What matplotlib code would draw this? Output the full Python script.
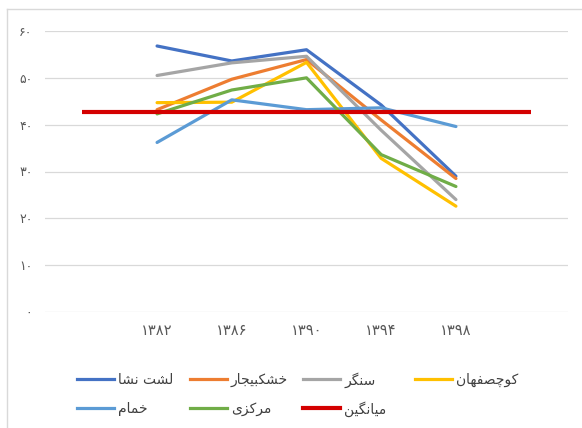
import matplotlib
matplotlib.use("Agg")
import matplotlib.pyplot as plt
from matplotlib.lines import Line2D

# ---------------- data ----------------
categories = ["", "۱۳۸۲", "۱۳۸۶", "۱۳۹۰", "۱۳۹۴", "۱۳۹۸", ""]
series_names = ["لشت نشا", "خشکبیجار", "سنگر", "کوچصفهان", "خمام", "مرکزی"]
lasht_nesha = [56.8, 53.6, 56.0, 44.2, 29.0]
khoshkebijar = [43.2, 49.7, 53.9, 41.0, 28.5]
sangar = [50.5, 53.2, 54.6, 38.8, 24.0]
kuchesfahan = [44.7, 44.8, 53.3, 32.8, 22.6]
khomam = [36.2, 45.3, 43.2, 43.6, 39.6]
markazi = [42.3, 47.4, 50.0, 33.6, 26.8]
average_name = "میانگین"
average = [42.8, 42.8, 42.8, 42.8, 42.8, 42.8, 42.8]
yticks = [0, 10, 20, 30, 40, 50, 60]

colors = ["#4472C4", "#ED7D31", "#A5A5A5", "#FFC000", "#5B9BD5", "#70AD47"]
avg_color = "#D40000"

# ------------- simple Persian shaping -------------
FORMS = {
    "ا": ("\uFE8D", "\uFE8E", None, None),
    "ب": ("\uFE8F", "\uFE90", "\uFE91", "\uFE92"),
    "ت": ("\uFE95", "\uFE96", "\uFE97", "\uFE98"),
    "ج": ("\uFE9D", "\uFE9E", "\uFE9F", "\uFEA0"),
    "چ": ("\uFB7A", "\uFB7B", "\uFB7C", "\uFB7D"),
    "خ": ("\uFEA5", "\uFEA6", "\uFEA7", "\uFEA8"),
    "ر": ("\uFEAD", "\uFEAE", None, None),
    "ز": ("\uFEAF", "\uFEB0", None, None),
    "س": ("\uFEB1", "\uFEB2", "\uFEB3", "\uFEB4"),
    "ش": ("\uFEB5", "\uFEB6", "\uFEB7", "\uFEB8"),
    "ص": ("\uFEB9", "\uFEBA", "\uFEBB", "\uFEBC"),
    "ف": ("\uFED1", "\uFED2", "\uFED3", "\uFED4"),
    "ک": ("\uFB8E", "\uFB8F", "\uFB90", "\uFB91"),
    "گ": ("\uFB92", "\uFB93", "\uFB94", "\uFB95"),
    "ل": ("\uFEDD", "\uFEDE", "\uFEDF", "\uFEE0"),
    "م": ("\uFEE1", "\uFEE2", "\uFEE3", "\uFEE4"),
    "ن": ("\uFEE5", "\uFEE6", "\uFEE7", "\uFEE8"),
    "و": ("\uFEED", "\uFEEE", None, None),
    "ه": ("\uFEE9", "\uFEEA", "\uFEEB", "\uFEEC"),
    "ی": ("\uFBFC", "\uFBFD", "\uFBFE", "\uFBFF"),
}


def shape(text):
    out = []
    n = len(text)
    for i, ch in enumerate(text):
        if ch not in FORMS:
            out.append(ch)
            continue
        iso, fin, ini, med = FORMS[ch]
        prev = text[i - 1] if i > 0 else None
        nxt = text[i + 1] if i < n - 1 else None
        join_prev = prev in FORMS and FORMS[prev][2] is not None
        join_next = ini is not None and nxt in FORMS
        if join_prev and join_next:
            out.append(med)
        elif join_prev:
            out.append(fin)
        elif join_next:
            out.append(ini)
        else:
            out.append(iso)
    return "".join(out)[::-1]


def to_fa_digits(v):
    return "".join("۰۱۲۳۴۵۶۷۸۹"[int(c)] if c.isdigit() else c for c in str(v))


plt.rcParams["font.family"] = ["DejaVu Sans"]

W, H = 582, 428
fig = plt.figure(figsize=(W / 100, H / 100), dpi=100)
ax = fig.add_axes([45 / W, 1 - 312 / H, (568 - 45) / W, (312 - 31) / H])

xs = list(range(1, 6))
all_series = [lasht_nesha, khoshkebijar, sangar, kuchesfahan, khomam, markazi]
handles = []
for name, vals, c in zip(series_names, all_series, colors):
    (h,) = ax.plot(xs, vals, color=c, lw=2.3, solid_capstyle="round",
                   solid_joinstyle="round", label=shape(name), zorder=3)
    handles.append(h)
(havg,) = ax.plot(range(len(categories)), average, color=avg_color, lw=3.0,
                  solid_capstyle="butt", label=shape(average_name), zorder=4)

ax.set_xlim(-0.5, len(categories) - 0.5)
ax.set_ylim(0, 60)
ax.set_xticks(range(len(categories)))
ax.set_xticklabels(categories, fontsize=10.5, color="#595959")
ax.set_yticks(yticks)
ax.set_yticklabels([to_fa_digits(v) for v in yticks], fontsize=9, color="#595959")
ax.tick_params(axis="both", length=0)
ax.tick_params(axis="y", pad=9)
ax.tick_params(axis="x", pad=8)
ax.grid(axis="y", color="#D9D9D9", lw=0.9)
ax.set_axisbelow(True)
for s in ax.spines.values():
    s.set_visible(False)

# chart frame (left and top edges visible)
fig.add_artist(Line2D([7 / W, 7 / W], [0, 1 - 9 / H], color="#D9D9D9", lw=1.0,
                      transform=fig.transFigure))
fig.add_artist(Line2D([7 / W, 1], [1 - 9 / H, 1 - 9 / H], color="#D9D9D9", lw=1.0,
                      transform=fig.transFigure))

# legend laid out on a fixed grid, as in the reference
order = [handles[0], handles[1], handles[2], handles[3], handles[4], handles[5], havg]
col_x = [77, 190, 303, 415]
row_y = [379, 408]
for k, h in enumerate(order):
    r, c = divmod(k, 4)
    x0 = col_x[c]
    y0 = row_y[r]
    fig.add_artist(Line2D([x0 / W, (x0 + 37) / W], [1 - y0 / H, 1 - y0 / H],
                          color=h.get_color(), lw=h.get_linewidth(),
                          transform=fig.transFigure))
    fig.text((x0 + 41) / W, 1 - (y0 + 1) / H, h.get_label(), fontsize=10,
             color="#404040", ha="left", va="center")

fig.savefig("out.png", dpi=100)
